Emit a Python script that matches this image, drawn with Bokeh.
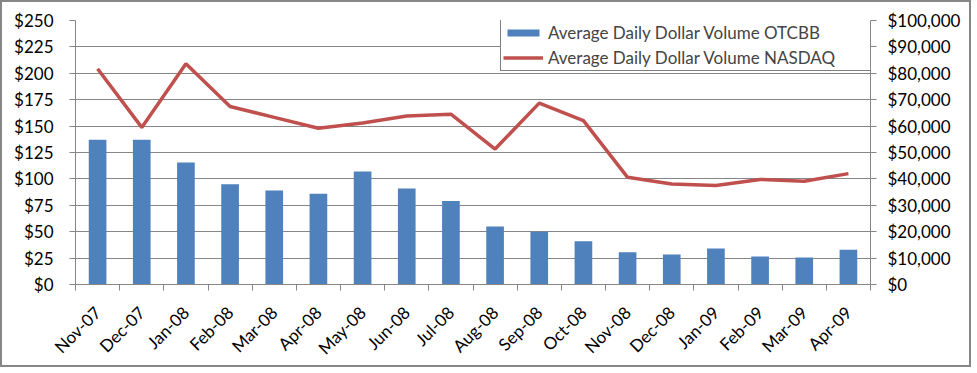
from math import pi
from bokeh.plotting import figure
from bokeh.models import (Range1d, FactorRange, LinearAxis, FixedTicker,
                          SingleIntervalTicker, NumeralTickFormatter, Legend, LegendItem)
from bokeh.embed import file_html
from bokeh.resources import INLINE

months = ["Nov-07", "Dec-07", "Jan-08", "Feb-08", "Mar-08", "Apr-08", "May-08", "Jun-08",
          "Jul-08", "Aug-08", "Sep-08", "Oct-08", "Nov-08", "Dec-08", "Jan-09", "Feb-09",
          "Mar-09", "Apr-09"]
otcbb = [137, 137, 115.5, 95, 89, 86, 107, 91, 79, 55, 50, 41, 30.5, 28.5, 34, 26.5, 25.5, 33]
nasdaq = [81700, 59500, 83600, 67400, 63300, 59200, 61200, 63800, 64500, 51300, 68700, 62100,
          40600, 38100, 37500, 39800, 39100, 42000]
left_ticks_step = 25
right_ticks_step = 10000

FONT = "Lato"
GRAY = "#868686"

p = figure(width=971, height=367, x_range=FactorRange(*months, range_padding=0),
           y_range=Range1d(0, 250), output_backend="svg", toolbar_location=None,
           x_axis_location=None, y_axis_location=None,
           min_border_left=73, min_border_right=103, min_border_top=18, min_border_bottom=85)
p.styles = {"border": "2px solid #868686"}
p.outline_line_color = None
p.background_fill_color = "white"
p.border_fill_color = "white"
p.extra_y_ranges = {"right": Range1d(0, 100000)}

p.xgrid.grid_line_color = None
p.ygrid.grid_line_color = GRAY
p.ygrid.ticker = SingleIntervalTicker(interval=left_ticks_step)

bars = p.vbar(x=months, top=otcbb, width=0.4, fill_color="#4F81BD", line_color=None)
line = p.line(x=months, y=nasdaq, y_range_name="right", line_color="#C0504D", line_width=3.5)

def style_axis(ax, size="17px"):
    ax.axis_line_color = GRAY
    ax.major_tick_line_color = GRAY
    ax.minor_tick_line_color = None
    ax.major_tick_out = 6
    ax.major_tick_in = 0
    ax.major_label_text_font = FONT
    ax.major_label_text_font_size = size
    ax.major_label_text_color = "black"

la = LinearAxis(ticker=SingleIntervalTicker(interval=left_ticks_step),
                formatter=NumeralTickFormatter(format="$0,0"))
style_axis(la)
la.major_label_standoff = 16
p.add_layout(la, "left")

ra = LinearAxis(y_range_name="right", ticker=SingleIntervalTicker(interval=right_ticks_step),
                formatter=NumeralTickFormatter(format="$0,0"))
style_axis(ra)
ra.major_label_standoff = 11
p.add_layout(ra, "right")

centers = [i + 0.5 for i in range(len(months))]
bounds = [i for i in range(len(months) + 1)]
xa = LinearAxis(ticker=FixedTicker(ticks=centers, minor_ticks=bounds))
style_axis(xa)
xa.major_tick_line_color = None
xa.major_tick_out = 0
xa.minor_tick_line_color = GRAY
xa.minor_tick_out = 6
xa.minor_tick_in = 0
xa.major_label_overrides = {c: m for c, m in zip(centers, months)}
xa.major_label_orientation = pi / 4
xa.major_label_standoff = 19
p.add_layout(xa, "below")

legend = Legend(items=[LegendItem(label="Average Daily Dollar Volume OTCBB", renderers=[bars]),
                       LegendItem(label="Average Daily Dollar Volume NASDAQ", renderers=[line])],
                location=(425, 213), orientation="vertical",
                glyph_width=40, glyph_height=9, label_height=17, spacing=4, padding=2,
                label_standoff=5, label_width=322, margin=0,
                label_text_font=FONT, label_text_font_size="17px",
                border_line_color="black", border_line_width=1,
                background_fill_color="white", background_fill_alpha=1)
p.add_layout(legend, "center")

open("out.html", "w").write(file_html(p, INLINE))
